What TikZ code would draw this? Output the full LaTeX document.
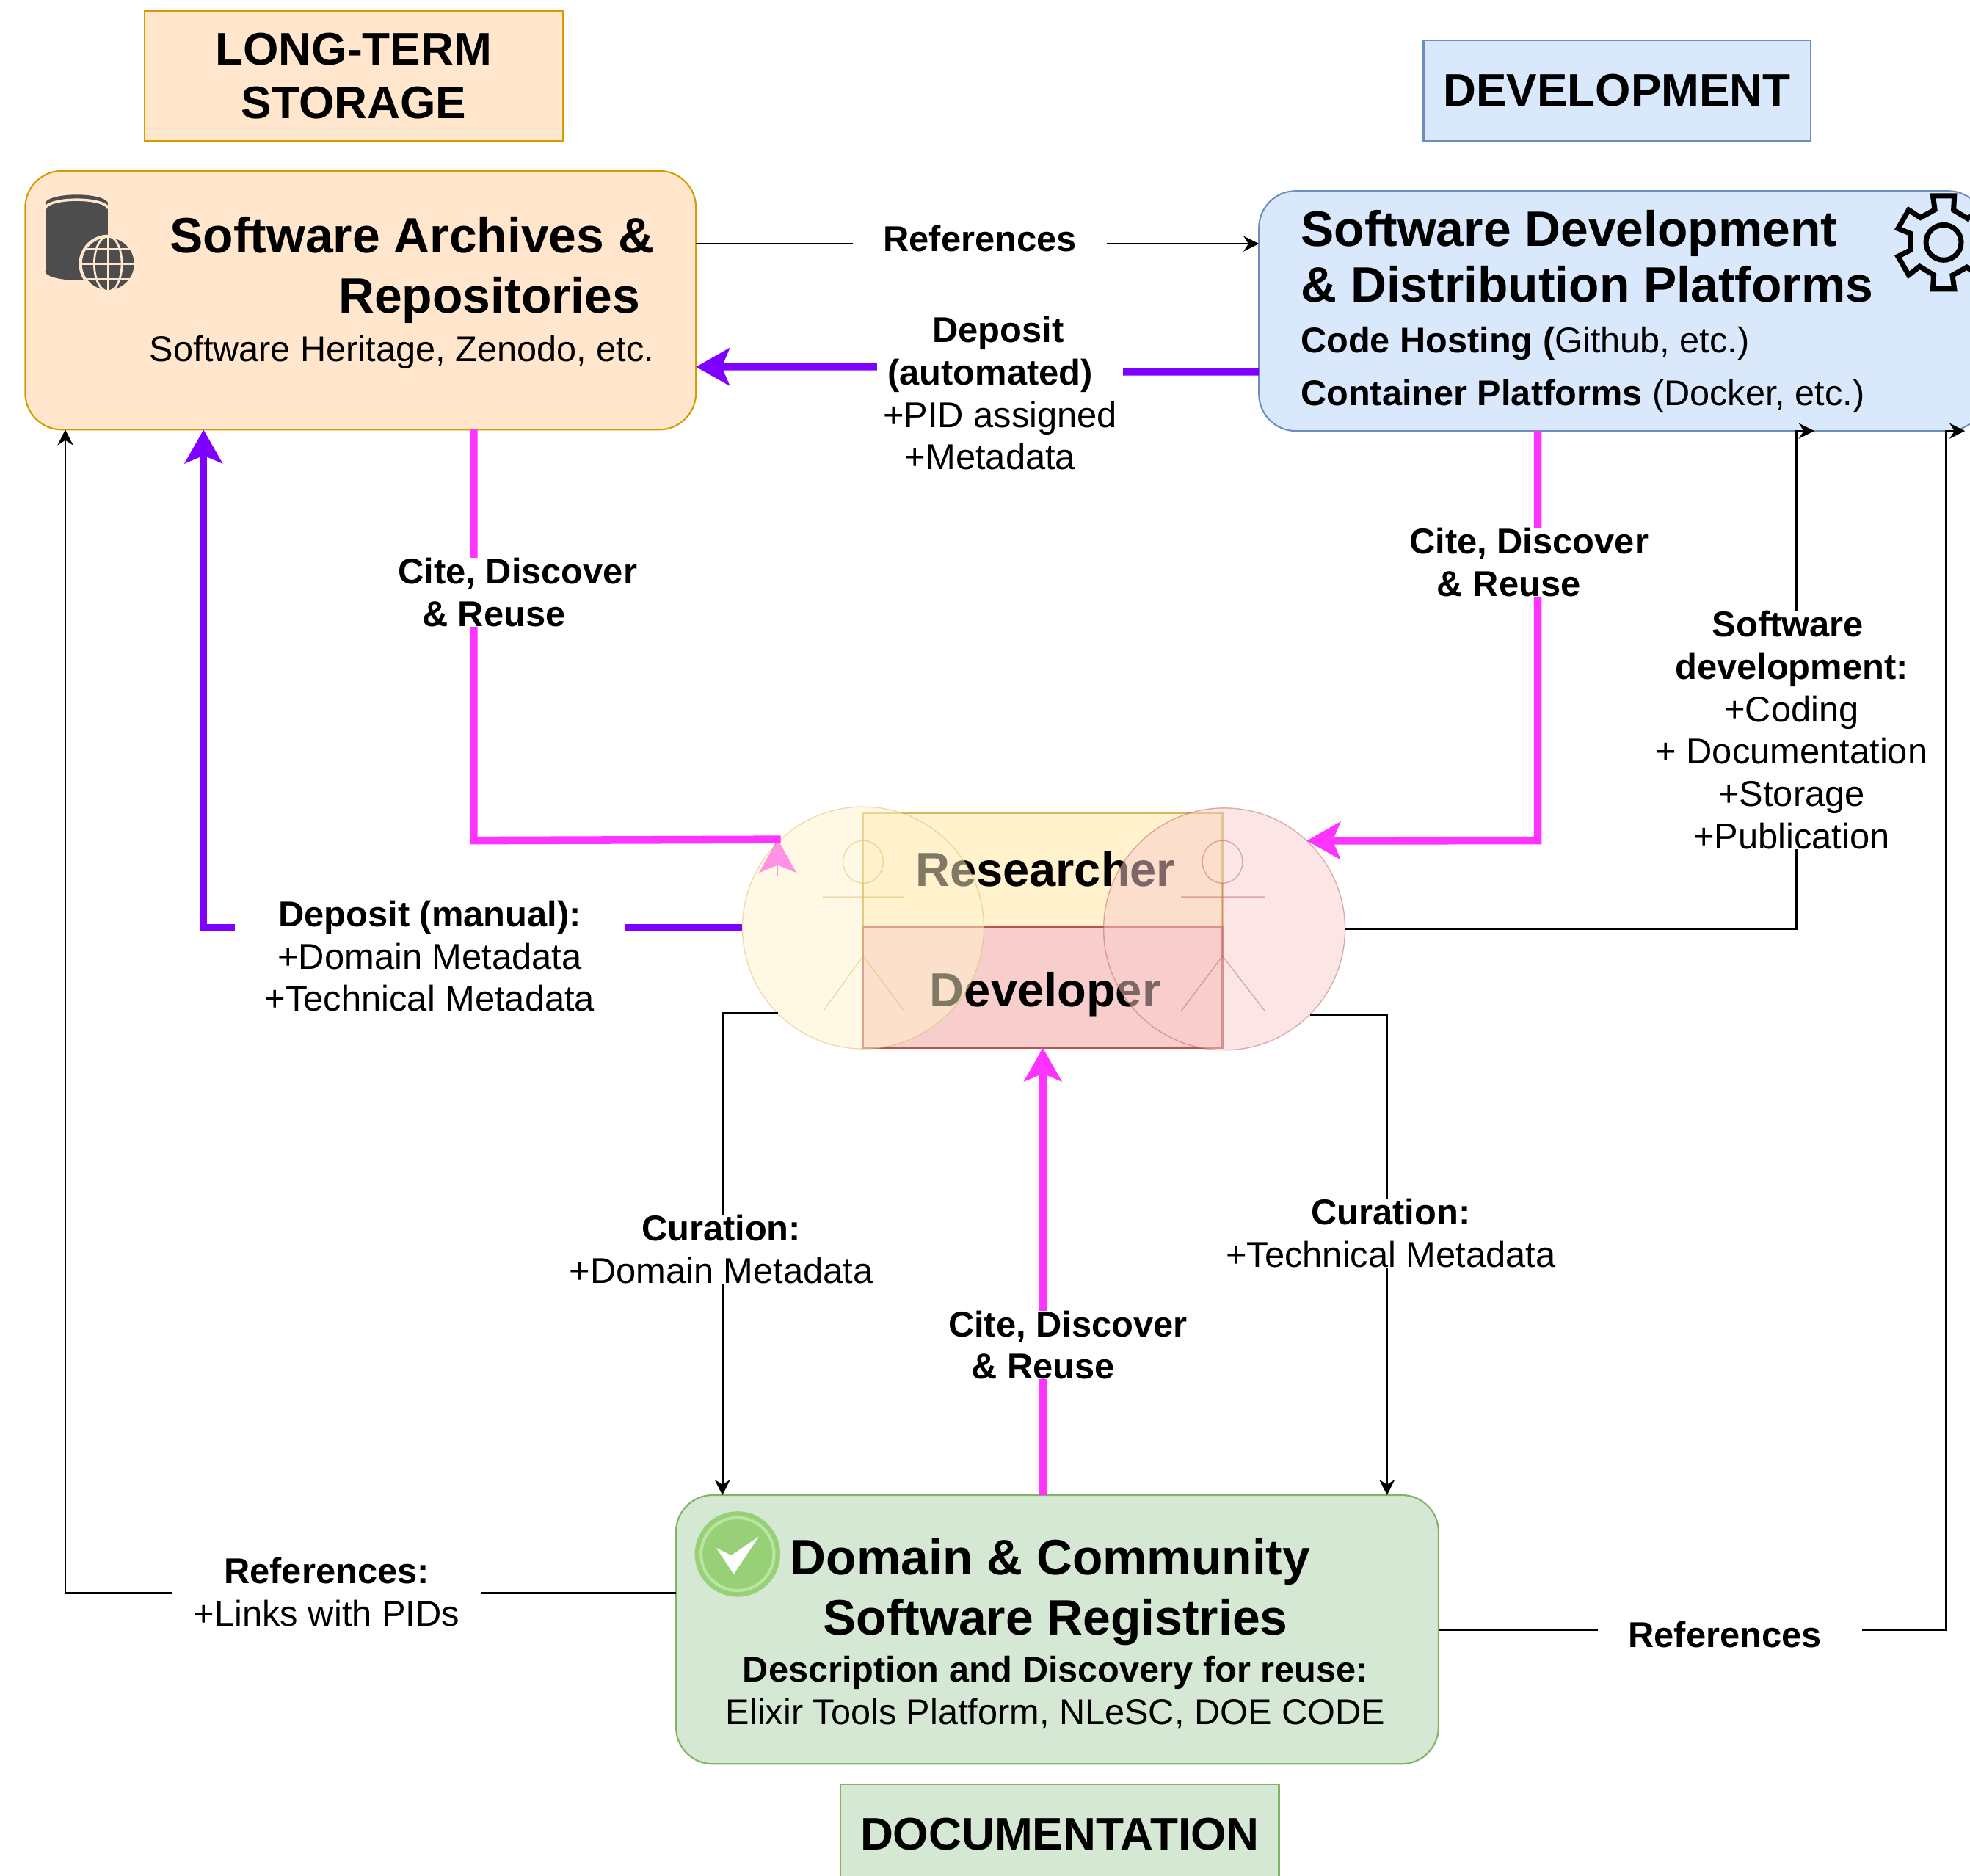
\documentclass[tikz,border=0pt]{standalone}
\usepackage{fontspec}
\setmainfont{Liberation Sans}
\usetikzlibrary{arrows.meta,shapes.geometric}
\definecolor{storefill}{HTML}{FFE6CC}
\definecolor{storeline}{HTML}{D79B00}
\definecolor{devfill}{HTML}{DAE8FC}
\definecolor{devline}{HTML}{6C8EBF}
\definecolor{docfill}{HTML}{D5E8D4}
\definecolor{docline}{HTML}{82B366}
\definecolor{resfill}{HTML}{FFF2CC}
\definecolor{resline}{HTML}{D6B656}
\definecolor{bldfill}{HTML}{F8CECC}
\definecolor{bldline}{HTML}{B85450}
\definecolor{citecol}{HTML}{FF33FF}
\definecolor{depcol}{HTML}{7F00FF}
\definecolor{iconcol}{HTML}{4D4D4D}
\definecolor{okfill}{HTML}{97D077}
\definecolor{okring}{HTML}{B9E5A0}
\newcommand{\mygap}[1]{\rule{#1}{0pt}}
\begin{document}
\begin{tikzpicture}[x=0.017117cm,y=-0.017117cm]
\tikzstyle{mybox} = [rectangle, rounded corners=0.5cm, line width=0.6pt, inner sep=0pt, outer sep=0pt]
\tikzstyle{mytitle} = [rectangle, line width=0.6pt, inner sep=0pt, outer sep=0pt, align=center, font={\fontsize{17.7}{21}\selectfont\bfseries}]
\tikzstyle{myhead} = [inner sep=0pt, font={\fontsize{19.3}{23.4}\selectfont\bfseries}]
\tikzstyle{mytext} = [inner sep=0pt, font={\fontsize{13.85}{16.4}\selectfont}]
\tikzstyle{mylabel} = [fill=white, inner ysep=0pt, inner xsep=0.08cm, align=center, font={\fontsize{13.9}{16.4}\selectfont}]
\tikzstyle{mywide} = [inner xsep=0.41cm]
\tikzstyle{myrole} = [rectangle, line width=0.6pt, inner sep=0pt, outer sep=0pt, minimum width=4.895cm]
\tikzstyle{myroletext} = [anchor=base, inner sep=0pt, font={\fontsize{18.5}{21}\selectfont\bfseries}]
\tikzstyle{mydisc} = [ellipse, minimum width=3.29cm, minimum height=3.3cm, inner sep=0pt, outer sep=0pt, line width=0.4pt, fill opacity=0.5, draw opacity=0.45]
\tikzstyle{mythin} = [draw=black, line width=0.8pt, -{Stealth[length=6pt,width=6pt]}]
\tikzstyle{mycite} = [draw=citecol, line width=3pt, -{Stealth[length=13pt,width=14.5pt,inset=3pt]}]
\tikzstyle{mydep} = [draw=depcol, line width=2.8pt, -{Stealth[length=13pt,width=14.5pt,inset=3pt]}]
\tikzstyle{myactor} = [line width=0.4pt, opacity=0.45]
	\clip (0,0) rectangle (1568,1493);
	% title boxes
	\node[mytitle, draw=storeline, fill=storefill, minimum width=5.7cm, minimum height=1.763cm] (longterm) at (281.5,60.5) {LONG-TERM\\STORAGE};
	\node[mytitle, draw=devline, fill=devfill, minimum width=5.272cm, minimum height=1.369cm] (devtitle) at (1287,72) {DEVELOPMENT};
	\node[mytitle, draw=docline, fill=docfill, minimum width=5.974cm, minimum height=1.369cm] (doctitle) at (843.5,1460) {DOCUMENTATION};
	% main boxes
	\node[mybox, draw=storeline, fill=storefill, minimum width=9.14cm, minimum height=3.526cm] (archive) at (287,239) {};
	\node[mybox, draw=devline, fill=devfill, minimum width=9.894cm, minimum height=3.269cm] (devplat) at (1291,247.5) {};
	\node[mybox, draw=docline, fill=docfill, minimum width=10.39cm, minimum height=3.663cm] (registry) at (841.5,1297) {};
	\node[myhead, anchor=east, align=right] (archivehead) at (521,215) {Software Archives \&\\Repositories\mygap{0.19cm}};
	\node[mytext, anchor=east] (archivesub) at (521,280.5) {Software Heritage, Zenodo, etc.};
	\node[myhead, anchor=west, align=left, font={\fontsize{19.3}{21.4}\selectfont\bfseries}] (devhead) at (1035,204) {Software Development\\\& Distribution Platforms};
	\node[mytext, anchor=west] (devsubA) at (1035,273.5) {\textbf{Code Hosting (}Github, etc.)};
	\node[mytext, anchor=west] (devsubB) at (1035,315.5) {\textbf{Container Platforms} (Docker, etc.)};
	\node[myhead, align=center] (reghead) at (836,1267) {Domain \& Community\\\mygap{0.14cm}Software Registries};
	\node[mytext, align=center] (regsub) at (840,1347) {\textbf{Description and Discovery for reuse:}\\Elixir Tools Platform, NLeSC, DOE CODE};
	% icons
	\fill[iconcol] (61,216) ellipse [x radius=25, y radius=7];
	\fill[iconcol] (36,162) rectangle (86,216);
	\fill[iconcol] (61,162) ellipse [x radius=25, y radius=7];
	\draw[storefill, line width=1pt] (36,166) arc [start angle=180, end angle=360, x radius=25, y radius=7];
	\fill[iconcol, draw=storefill, line width=1.2pt] (86,210) circle [radius=22];
	\begin{scope}[storefill, line width=0.8pt]
		\draw (86,188) -- (86,232) (64,210) -- (108,210) (68,198) -- (104,198) (68,222) -- (104,222);
		\draw (86,210) ellipse [x radius=11, y radius=22];
	\end{scope}
	\begin{scope}[shift={(1547,193)}]
		\draw[black, line width=2pt, line join=miter] (77:38)
			\foreach \a in {77,137,197,257,317,377} { -- (\a:38) -- (\a+26:38) -- (\a+30:27) -- (\a+58:27) } -- cycle;
		\draw[black, line width=2pt] (0,0) circle [radius=14];
	\end{scope}
	\fill[okfill] (587,1237) circle [radius=34];
	\draw[okring, line width=1.2pt] (587,1237) circle [radius=29];
	\fill[white] (570,1232) -- (584,1253) -- (604,1223) -- (582,1238) -- cycle;
	% roles
	\node[myrole, draw=resline, fill=resfill, minimum height=1.558cm] (researcher) at (830,692.5) {};
	\node[myrole, draw=bldline, fill=bldfill, minimum height=1.643cm] (developer) at (830,786) {};
	\node[myroletext] (researchertext) at (832,705.5) {Researcher};
	\node[myroletext] (developertext) at (832,801.5) {Developer};
	\coordinate (citeTipA) at (619,668);
	\coordinate (citeEndA) at (619,697);
	\draw[mycite, line width=0.4pt, fill=citecol] (citeEndA) -- (citeTipA);
	\node[mydisc, draw=resline, fill=resfill] (discL) at (687,738.5) {};
	\node[mydisc, draw=bldline, fill=bldfill] (discR) at (974.5,739.5) {};
	\draw[myactor, resline] (687,686) ellipse [x radius=16, y radius=17];
	\draw[myactor, resline] (687,703) -- (687,761) -- (655,805) (687,761) -- (720,805) (655,714) -- (720,714);
	\draw[myactor, bldline] (973,686) ellipse [x radius=16, y radius=17];
	\draw[myactor, bldline] (973,703) -- (973,761) -- (940,805) (973,761) -- (1007,805) (940,714) -- (1007,714);
	% connectors
	\coordinate (refTop) at (700,194);
	\coordinate (depR) at (894,296);
	\coordinate (depS) at (698,292);
	\coordinate (citeA) at (377,669);
	\coordinate (citeB) at (1224,669);
	\coordinate (depManual) at (162,738);
	\coordinate (curA) at (575,1000);
	\coordinate (curB) at (1104,1000);
	\coordinate (softA) at (1430,343);
	\coordinate (softB) at (1444,343);
	\coordinate (refA) at (1549,343);
	\coordinate (refB) at (1564,343);
	\coordinate (refL) at (52,1268);
	\draw[mythin] (archive.east |- refTop) -- (devplat.west |- refTop);
	\draw[mydep] (devplat.west |- depR) -- (depR) -- (depS) -- (archive.east |- depS);
	\draw[draw=citecol, line width=3pt, line join=miter] (archive.south -| citeA) -- (citeA) -- (discL.133);
	\draw[mycite] (devplat.south -| citeB) -- (citeB) -- (discR.47);
	\draw[mydep] (discL.west) -| (archive.south -| depManual);
	\draw[mycite] (registry.north -| developer.south) -- (developer.south);
	\draw[mythin] (discL.225) -| (registry.north -| curA);
	\draw[mythin] (discR.-45) -| (registry.north -| curB);
	\draw[mythin] (discR.east) -| (softA) -- (softB);
	\draw[mythin] (registry.east) -| (refA) -- (refB);
	\draw[mythin] (refL -| registry.west) -- (refL) -- (archive.south -| refL);
	% labels
	\node[mylabel, mywide] (lblRefTop) at (780,190) {\textbf{References}};
	\node[mylabel] (lblDepAuto) at (796,313) {\textbf{Deposit}\mygap{0.05cm}\\\textbf{(automated)}\mygap{0.27cm}\\+PID assigned\\+Metadata\mygap{0.27cm}};
	\node[mylabel] (lblCiteA) at (412,471.5) {\textbf{Cite, Discover}\\\textbf{\& Reuse}\mygap{0.65cm}};
	\node[mylabel] (lblCiteB) at (1217,447.5) {\textbf{Cite, Discover}\\\textbf{\& Reuse}\mygap{0.55cm}};
	\node[mylabel] (lblCiteC) at (850,1070.5) {\textbf{Cite, Discover}\\\textbf{\& Reuse}\mygap{0.68cm}};
	\node[mylabel, mywide] (lblDepMan) at (342,761) {\textbf{Deposit (manual):}\\+Domain Metadata\\+Technical Metadata};
	\node[mylabel] (lblCurA) at (574,994.5) {\textbf{Curation:}\\+Domain Metadata};
	\node[mylabel] (lblCurB) at (1107,981.5) {\textbf{Curation:}\\+Technical Metadata};
	\node[mylabel] (lblSoft) at (1426,581) {\textbf{Software}\mygap{0.1cm}\\\textbf{development:}\\+Coding\\+ Documentation\\+Storage\\+Publication};
	\node[mylabel, mywide] (lblRefR) at (1377,1301) {\textbf{References}\mygap{0.14cm}};
	\node[mylabel, inner xsep=0.29cm] (lblRefL) at (260,1267) {\textbf{References:}\\+Links with PIDs};
\end{tikzpicture}
\end{document}
